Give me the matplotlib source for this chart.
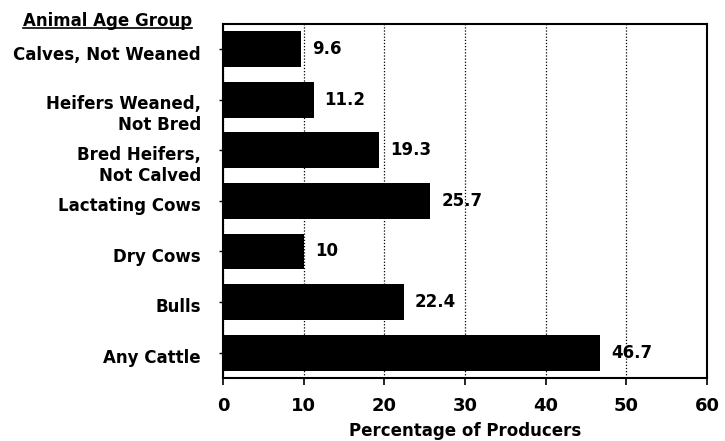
import matplotlib
matplotlib.use("Agg")
import matplotlib.pyplot as plt
from matplotlib.lines import Line2D

# data
groups = [
    "Calves, Not Weaned",
    "Heifers Weaned,\nNot Bred",
    "Bred Heifers,\nNot Calved",
    "Lactating Cows",
    "Dry Cows",
    "Bulls",
    "Any Cattle",
]
percent = [9.6, 11.2, 19.3, 25.7, 10, 22.4, 46.7]
value_labels = ["9.6", "11.2", "19.3", "25.7", "10", "22.4", "46.7"]
x_ticks = [0, 10, 20, 30, 40, 50, 60]

plt.rcParams["font.family"] = ["DejaVu Sans"]
plt.rcParams["font.weight"] = "bold"

fig = plt.figure(figsize=(7.25, 4.41), dpi=100)
ax = fig.add_axes([0.308, 0.143, 0.667, 0.803])

pos = list(range(len(groups)))
ax.barh(pos, percent, height=0.71, color="black", zorder=3)

for y, v, lab in zip(pos, percent, value_labels):
    ax.annotate(lab, (v, y), xytext=(8, 0), textcoords="offset points",
                va="center", ha="left", fontsize=12, fontweight="bold", zorder=4)

ax.set_xlim(0, 60)
ax.set_ylim(6.5, -0.5)
ax.set_xticks(x_ticks)
ax.set_xticklabels([str(t) for t in x_ticks], fontsize=13, fontweight="bold")
ax.set_yticks(pos)
ax.set_yticklabels([])
ax.tick_params(axis="x", direction="out", length=5, width=1.2, pad=9)
ax.tick_params(axis="y", direction="out", length=3, width=1)

# category labels: first line sits just below the bar centre,
# extra lines hang underneath it
for y, lab in zip(pos, groups):
    extra = lab.count("\n")
    ax.annotate(lab, (0, y), xycoords=("axes fraction", "data"),
                xytext=(-16, -7.5 - 14.4 * extra), textcoords="offset points",
                ha="right", va="baseline", fontsize=12, fontweight="bold",
                linespacing=1.2, annotation_clip=False)

ax.xaxis.grid(True, linestyle=(0, (1, 1.5)), color="black", linewidth=0.9, zorder=1)
for s in ax.spines.values():
    s.set_linewidth(1.5)

ax.set_xlabel("Percentage of Producers", fontsize=12, fontweight="bold", labelpad=5)

# underlined header above the category labels
hdr = fig.text(192 / 725, 1 - 26 / 441, "Animal Age Group", ha="right", va="baseline",
               fontsize=12, fontweight="bold")
fig.canvas.draw()
bb = hdr.get_window_extent().transformed(fig.transFigure.inverted())
uy = 1 - 28 / 441
fig.add_artist(Line2D([bb.x0, bb.x1], [uy, uy],
                      transform=fig.transFigure, color="black", linewidth=1.2))

fig.savefig("out.png", dpi=100)
